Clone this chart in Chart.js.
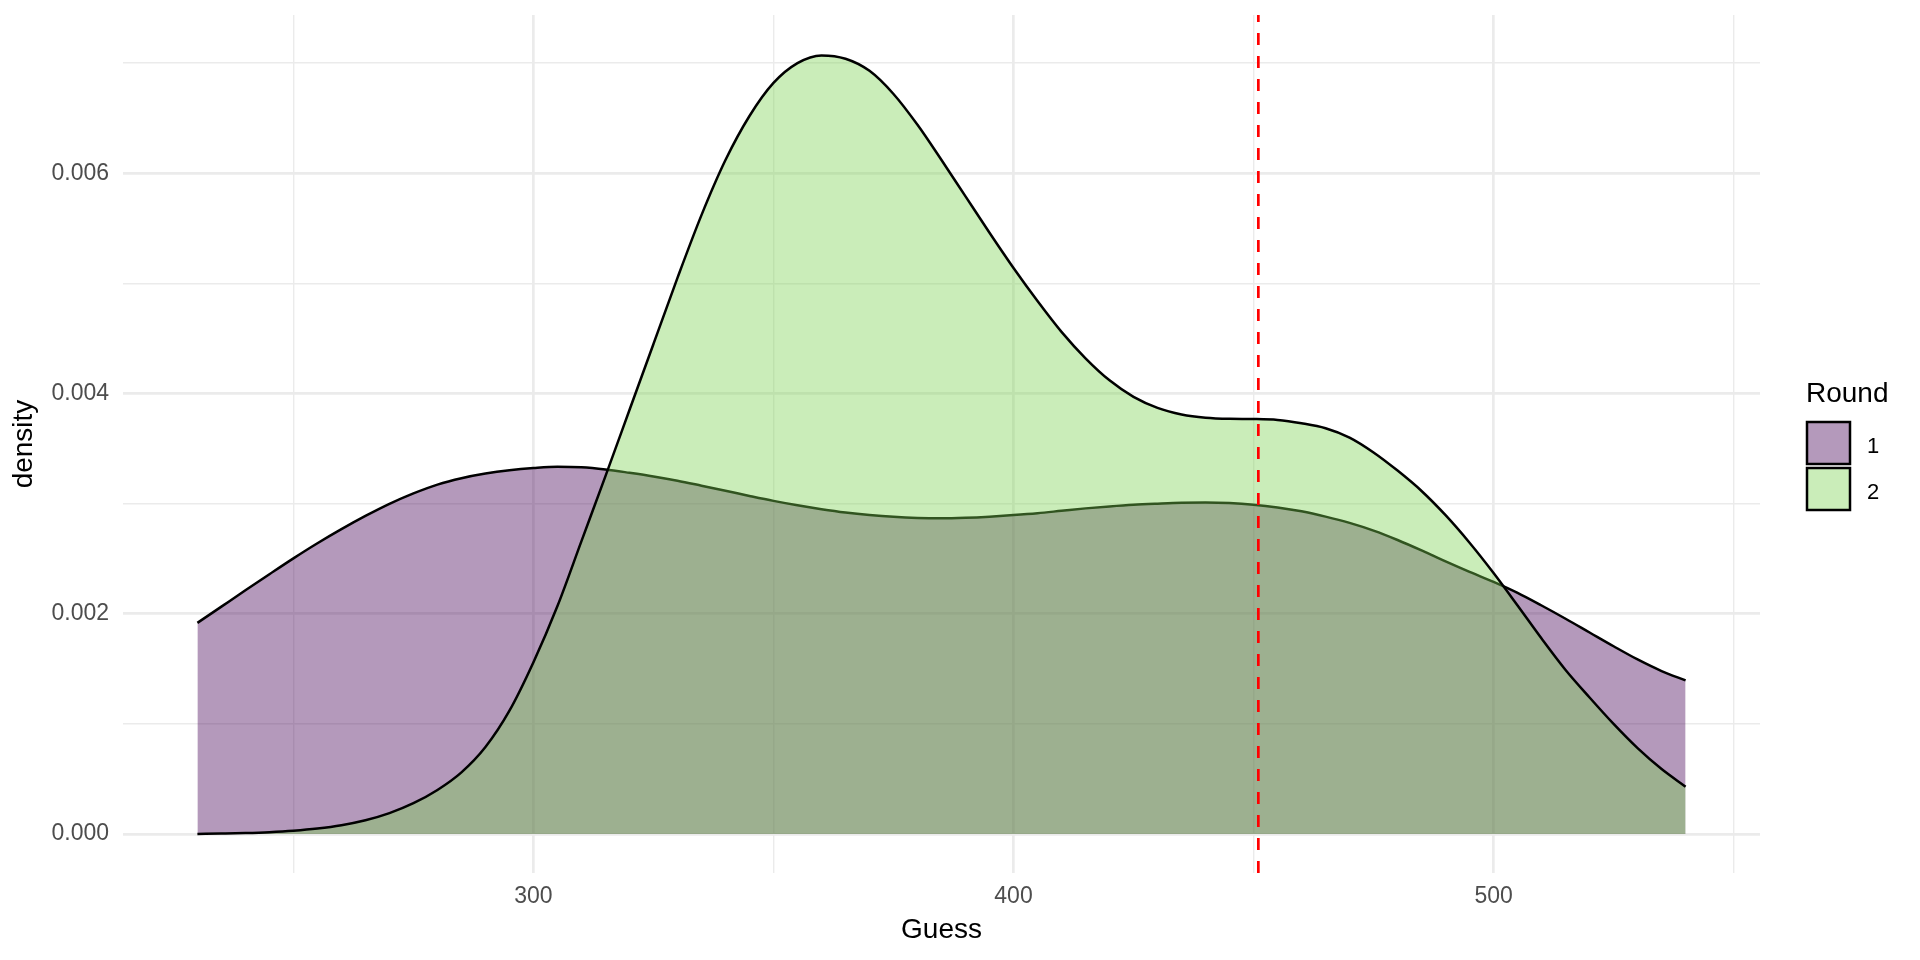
<!DOCTYPE html>
<html>
<head>
<meta charset="utf-8">
<title>Guess density by round</title>
<script src="https://cdn.jsdelivr.net/npm/chart.js@4"></script>
<style>
  html, body { margin: 0; padding: 0; background: #fff; }
  canvas { display: block; }
</style>
</head>
<body>
<canvas id="chart" width="1920" height="960"></canvas>
<script>
// guesses (x) where the density was read off
const guess = [230, 235, 240, 245, 250, 255, 260, 265, 270, 275, 280, 285, 290, 295, 300,
  305, 310, 315, 320, 325, 330, 335, 340, 345, 350, 355, 360, 365, 370, 375, 380,
  385, 390, 395, 400, 405, 410, 415, 420, 425, 430, 435, 440, 445, 450, 455, 460,
  465, 470, 475, 480, 485, 490, 495, 500, 505, 510, 515, 520, 525, 530, 535, 540];

// Round 1 density
const round1 = [0.001917, 0.002065, 0.002213, 0.002359, 0.002503, 0.00264, 0.002768, 0.002888,
  0.002998, 0.003093, 0.003173, 0.003231, 0.003273, 0.003303, 0.003323, 0.003335, 0.00333,
  0.00331, 0.00328, 0.003247, 0.003208, 0.003163, 0.003117, 0.00307, 0.003025, 0.002985,
  0.00295, 0.00292, 0.002897, 0.00288, 0.00287, 0.002867, 0.002872, 0.002882, 0.002896,
  0.002913, 0.002935, 0.002957, 0.002975, 0.00299, 0.003, 0.003008, 0.00301, 0.003005,
  0.00299, 0.002965, 0.00293, 0.002882, 0.002825, 0.002755, 0.00267, 0.002575, 0.002475,
  0.00238, 0.00229, 0.00219, 0.002075, 0.001955, 0.00183, 0.001705, 0.001585, 0.00148, 0.001395];

// Round 2 density
const round2 = [0.0, 0.000004, 0.000009, 0.000017, 0.00003, 0.00005, 0.00008, 0.000125,
  0.00019, 0.00028, 0.0004, 0.00056, 0.00079, 0.00112, 0.00156, 0.00207, 0.00266, 0.00325,
  0.00385, 0.00445, 0.00505, 0.00562, 0.00612, 0.00652, 0.00682, 0.007, 0.00707, 0.00704,
  0.00693, 0.00672, 0.00644, 0.00612, 0.00579, 0.00546, 0.00514, 0.00484, 0.00456, 0.00432,
  0.00412, 0.00397, 0.00387, 0.00381, 0.00378, 0.00377, 0.003768, 0.00376, 0.00373,
  0.003685, 0.0036, 0.003465, 0.0033, 0.003115, 0.002895, 0.002645, 0.00237, 0.002075,
  0.001775, 0.00149, 0.00124, 0.001, 0.00078, 0.00059, 0.00043];

const roundLabels = ['1', '2'];
const vlineX = 451;

const xLimits = [214.5, 555.5];
const yLimits = [-0.000354, 0.007437];
const xGrid = [250, 300, 350, 400, 450, 500, 550];
const yGrid = [0, 0.001, 0.002, 0.003, 0.004, 0.005, 0.006, 0.007];

const fills = ['rgba(68,1,84,0.4)', 'rgba(122,209,81,0.4)'];
const FONT = '"Liberation Sans", Arial, sans-serif';
Chart.defaults.font.family = FONT;

function toPoints(ys) {
  return guess.map((g, i) => ({ x: g, y: ys[i] }));
}

// legend drawn by hand, ggplot style
const rightLegend = {
  id: 'rightLegend',
  afterDraw(chart) {
    const ctx = chart.ctx;
    ctx.save();
    ctx.fillStyle = '#000';
    ctx.textBaseline = 'alphabetic';
    ctx.textAlign = 'left';
    ctx.font = '28px ' + FONT;
    ctx.fillText('Round', 1806, 402);
    ctx.font = '22px ' + FONT;
    roundLabels.forEach((lab, i) => {
      const top = 422 + i * 46;
      ctx.fillStyle = '#fff';
      ctx.fillRect(1807, top, 43, 42);
      ctx.fillStyle = fills[i];
      ctx.fillRect(1807, top, 43, 42);
      ctx.strokeStyle = '#000';
      ctx.lineWidth = 2.5;
      ctx.strokeRect(1807, top, 43, 42);
      ctx.fillStyle = '#000';
      ctx.fillText(lab, 1867, top + 31);
    });
    ctx.restore();
  }
};

new Chart(document.getElementById('chart').getContext('2d'), {
  type: 'line',
  data: {
    datasets: [
      {
        label: 'vline',
        data: [{ x: vlineX, y: yLimits[0] }, { x: vlineX, y: yLimits[1] }],
        borderColor: '#FF0000',
        borderWidth: 2.7,
        borderDash: [12, 11],
        pointRadius: 0,
        fill: false,
        order: 0
      },
      {
        label: roundLabels[1],
        data: toPoints(round2),
        borderColor: '#000',
        borderWidth: 2.5,
        backgroundColor: fills[1],
        fill: 'origin',
        pointRadius: 0,
        cubicInterpolationMode: 'monotone',
        order: 1
      },
      {
        label: roundLabels[0],
        data: toPoints(round1),
        borderColor: '#000',
        borderWidth: 2.5,
        backgroundColor: fills[0],
        fill: 'origin',
        pointRadius: 0,
        cubicInterpolationMode: 'monotone',
        order: 2
      }
    ]
  },
  options: {
    responsive: false,
    animation: false,
    layout: { padding: { left: 0, top: 15, right: 160, bottom: 0 } },
    plugins: {
      legend: { display: false },
      tooltip: { enabled: false }
    },
    scales: {
      x: {
        type: 'linear',
        min: xLimits[0],
        max: xLimits[1],
        afterBuildTicks: s => { s.ticks = xGrid.map(v => ({ value: v })); },
        afterFit: s => { s.height = 87; s.paddingLeft = 0; s.paddingRight = 0; },
        border: { display: false },
        grid: {
          color: '#EBEBEB',
          drawTicks: false,
          lineWidth: c => (c.tick && c.tick.value % 100 === 0) ? 2.7 : 1.4
        },
        ticks: {
          autoSkip: false,
          maxRotation: 0,
          padding: 10,
          color: '#4D4D4D',
          font: { size: 23 },
          callback: v => (v % 100 === 0 ? String(v) : '')
        },
        title: {
          display: true,
          text: 'Guess',
          color: '#000',
          font: { size: 28 },
          padding: { top: 0, bottom: 13 }
        }
      },
      y: {
        type: 'linear',
        min: yLimits[0],
        max: yLimits[1],
        afterBuildTicks: s => { s.ticks = yGrid.map(v => ({ value: v })); },
        afterFit: s => { s.width = 123; s.paddingTop = 0; s.paddingBottom = 0; },
        border: { display: false },
        grid: {
          color: '#EBEBEB',
          drawTicks: false,
          lineWidth: c => (c.tick && Math.round(c.tick.value * 1000) % 2 === 0) ? 2.7 : 1.4
        },
        ticks: {
          autoSkip: false,
          padding: 14,
          color: '#4D4D4D',
          font: { size: 23 },
          callback: v => (Math.round(v * 1000) % 2 === 0 ? v.toFixed(3) : '')
        },
        title: {
          display: true,
          text: 'density',
          color: '#000',
          font: { size: 28 },
          padding: { top: 7, bottom: 0 }
        }
      }
    }
  },
  plugins: [rightLegend]
});
</script>
</body>
</html>
